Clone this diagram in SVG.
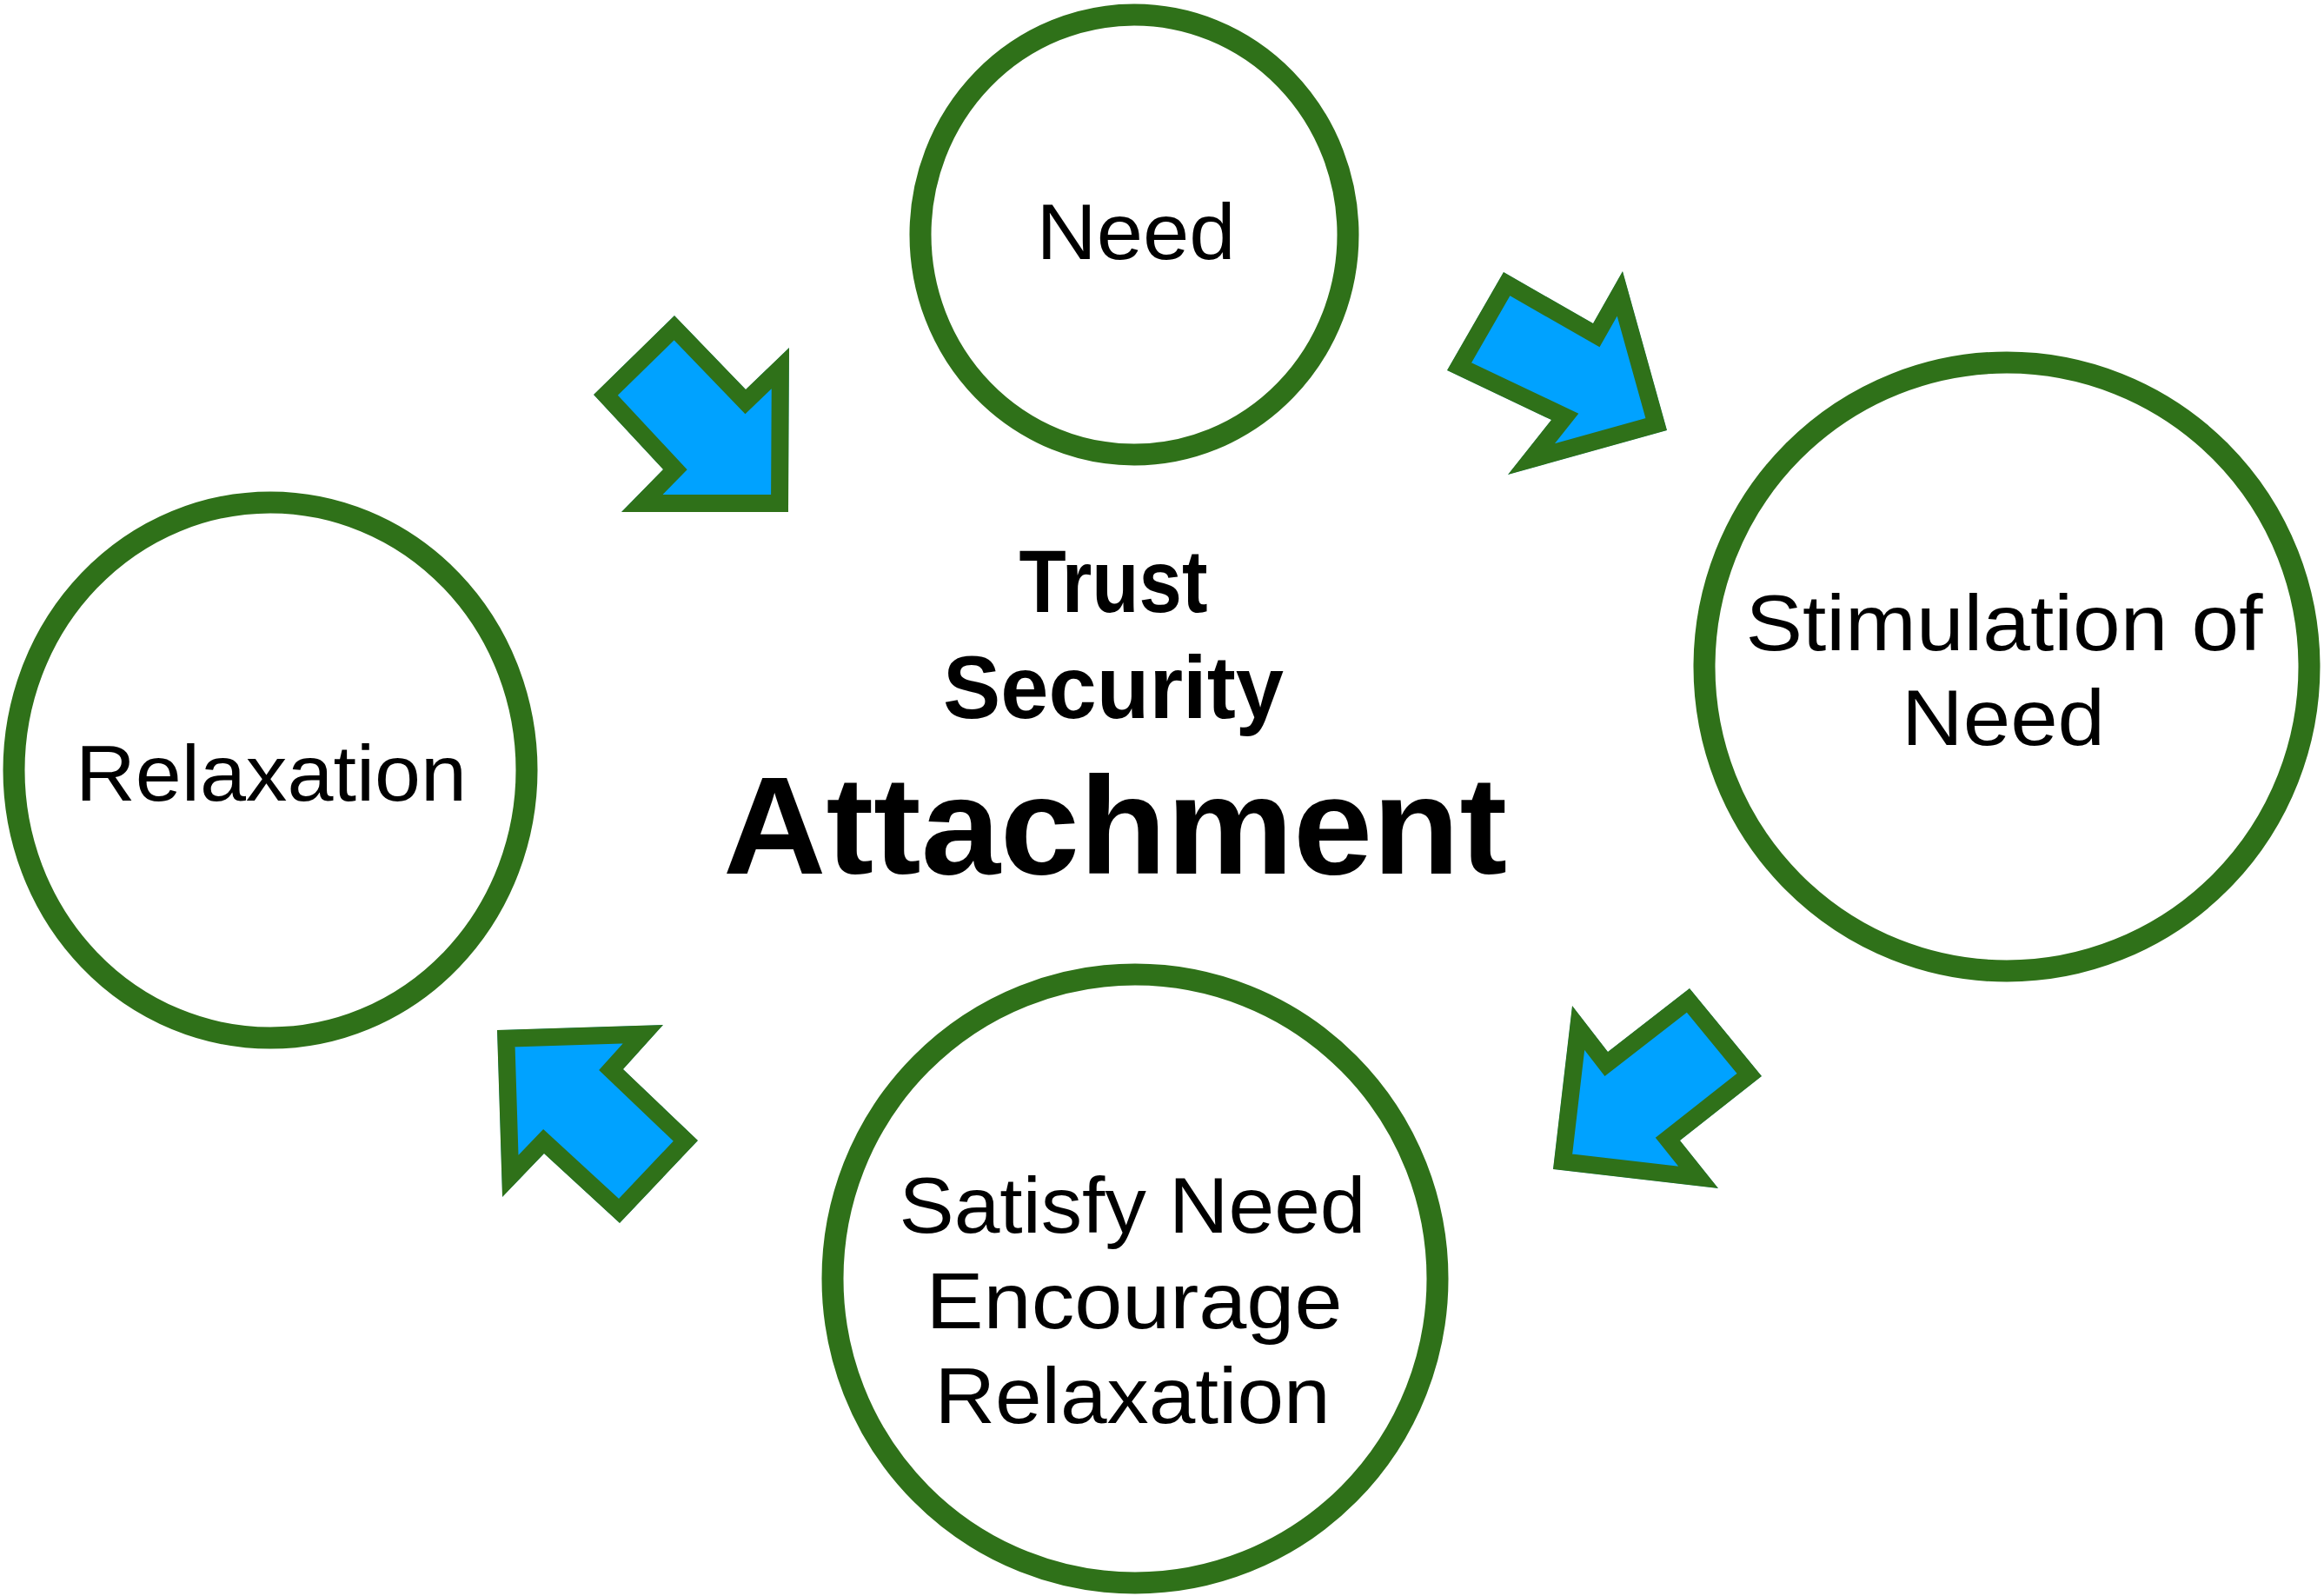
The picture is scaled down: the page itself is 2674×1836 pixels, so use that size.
<svg xmlns="http://www.w3.org/2000/svg" xmlns:xlink="http://www.w3.org/1999/xlink" width="2674" height="1836" viewBox="0 0 2674 1836">
<style>
.node{fill:#ffffff;stroke:#2f7119;stroke-width:25}
.lbl{font-family:"Liberation Sans",Arial,sans-serif;font-size:90px;fill:#000;text-anchor:middle}
.bold{font-family:"Liberation Sans",Arial,sans-serif;font-weight:bold;fill:#000;text-anchor:middle}
.arrow{fill:#00a2ff;stroke:#2f7119;stroke-width:40;stroke-linejoin:miter;stroke-miterlimit:10}
</style>
<defs>
<polygon id="a1" points="776,363 683,454 763,540 715,589 907,589 908,400 858,448"/>
<polygon id="a2" points="1730,313 1833,372 1867,312 1918,495 1735,546 1785,483 1665,426"/>
<polygon id="a3" points="1809,1157 1850,1210 1944,1137 2027,1238 1933,1312 1977,1367 1787,1345"/>
<polygon id="a4" points="572,1185 763,1179 717,1230 803,1312 713,1407 626,1327 578,1377"/>
<clipPath id="c1"><use xlink:href="#a1"/></clipPath>
<clipPath id="c2"><use xlink:href="#a2"/></clipPath>
<clipPath id="c3"><use xlink:href="#a3"/></clipPath>
<clipPath id="c4"><use xlink:href="#a4"/></clipPath>
</defs>
<rect width="2674" height="1836" fill="#ffffff"/>
<g id="connectors">
<use xlink:href="#a1" class="arrow" clip-path="url(#c1)"/>
<use xlink:href="#a2" class="arrow" clip-path="url(#c2)"/>
<use xlink:href="#a3" class="arrow" clip-path="url(#c3)"/>
<use xlink:href="#a4" class="arrow" clip-path="url(#c4)"/>
</g>
<g id="need">
<ellipse class="node" cx="1305" cy="270" rx="246" ry="253"/>
<text class="lbl" x="1307" y="298" textLength="229" lengthAdjust="spacingAndGlyphs">Need</text>
</g>
<g id="stimulation">
<ellipse class="node" cx="2309" cy="767" rx="348" ry="350"/>
<text class="lbl" x="2306" y="748" textLength="595" lengthAdjust="spacingAndGlyphs">Stimulation of</text>
<text class="lbl" x="2305" y="857" textLength="234" lengthAdjust="spacingAndGlyphs">Need</text>
</g>
<g id="satisfy">
<ellipse class="node" cx="1306" cy="1471" rx="348" ry="350"/>
<text class="lbl" x="1303" y="1418" textLength="537" lengthAdjust="spacingAndGlyphs">Satisfy Need</text>
<text class="lbl" x="1305" y="1528" textLength="479" lengthAdjust="spacingAndGlyphs">Encourage</text>
<text class="lbl" x="1303" y="1637" textLength="455" lengthAdjust="spacingAndGlyphs">Relaxation</text>
</g>
<g id="relaxation">
<ellipse class="node" cx="311" cy="886" rx="295" ry="308"/>
<text class="lbl" x="312" y="921" textLength="450" lengthAdjust="spacingAndGlyphs">Relaxation</text>
</g>
<g id="center">
<text class="bold" x="1281" y="704" font-size="102" textLength="217" lengthAdjust="spacingAndGlyphs">Trust</text>
<text class="bold" x="1281" y="826" font-size="102" textLength="392" lengthAdjust="spacingAndGlyphs">Security</text>
<text class="bold" x="1283" y="1005" font-size="160" textLength="902" lengthAdjust="spacingAndGlyphs">Attachment</text>
</g>
</svg>
